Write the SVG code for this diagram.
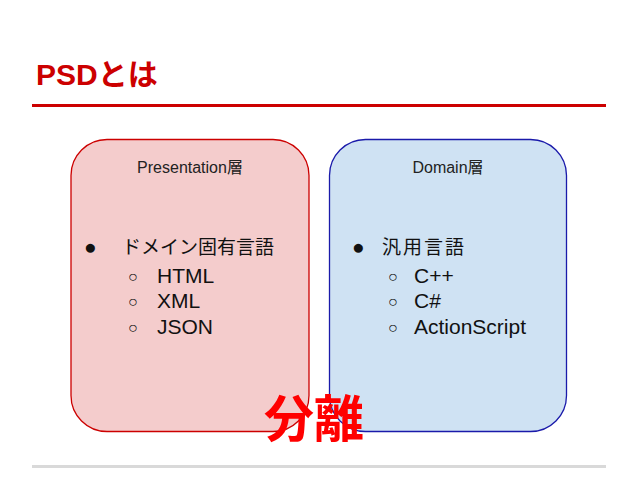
<svg xmlns="http://www.w3.org/2000/svg" width="638" height="479" viewBox="0 0 638 479">
<style>
.t{font-family:"Liberation Sans","Noto Sans CJK JP",sans-serif;}
.hd{font-size:16px;fill:#222;text-anchor:middle;}
.li{font-size:21px;fill:#111;}
.cj{font-size:19px;fill:#111;}
.sb{font-size:16px;fill:#111;}
</style>
<rect width="638" height="479" fill="#ffffff"/>
<text class="t" x="36" y="85" font-size="30" font-weight="bold" fill="#cc0000">PSDとは</text>
<line x1="32" y1="105.5" x2="606" y2="105.5" stroke="#cc0000" stroke-width="3"/>
<line x1="32" y1="466.5" x2="606" y2="466.5" stroke="#d9d9d9" stroke-width="3"/>
<g id="presentation">
<rect x="71" y="139.5" width="238" height="292" rx="36" ry="36" fill="#f4cccc" stroke="#cc0000" stroke-width="1.3"/>
<text class="t hd" x="190" y="173">Presentation層</text>
<text class="t li" x="84" y="254">●</text>
<text class="t cj" x="122" y="254">ドメイン固有言語</text>
<text class="t sb" x="128" y="282">○</text>
<text class="t li" x="157" y="283">HTML</text>
<text class="t sb" x="128" y="307">○</text>
<text class="t li" x="157" y="308">XML</text>
<text class="t sb" x="128" y="333">○</text>
<text class="t li" x="157" y="334">JSON</text>
</g>
<g id="domain">
<rect x="329.5" y="139.5" width="237" height="292" rx="36" ry="36" fill="#cfe2f3" stroke="#1a1aaa" stroke-width="1.3"/>
<text class="t hd" x="448" y="173">Domain層</text>
<text class="t li" x="352" y="254">●</text>
<text class="t cj" x="382" y="254" letter-spacing="2">汎用言語</text>
<text class="t sb" x="388" y="282">○</text>
<text class="t li" x="414" y="283">C++</text>
<text class="t sb" x="388" y="307">○</text>
<text class="t li" x="414" y="308">C#</text>
<text class="t sb" x="388" y="333">○</text>
<text class="t li" x="414" y="334">ActionScript</text>
</g>
<g id="connectors"></g>
<text class="t" x="264" y="437" font-size="50" font-weight="bold" fill="#ff0000">分離</text>
</svg>
